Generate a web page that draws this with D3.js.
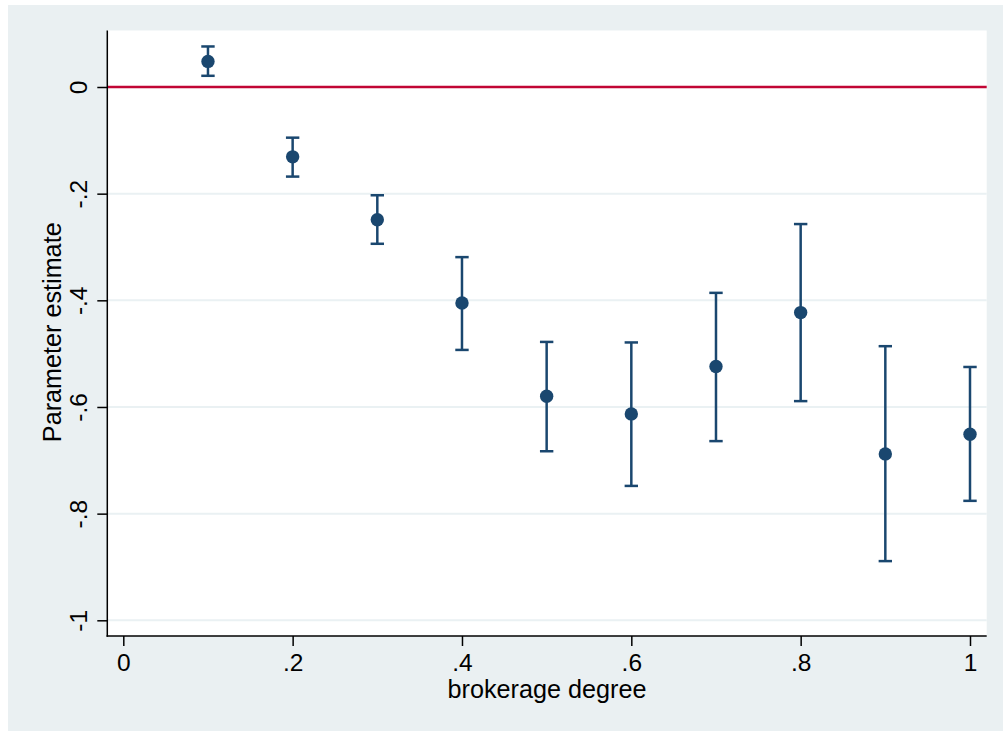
<!DOCTYPE html>
<html>
<head>
<meta charset="utf-8">
<script src="https://cdn.jsdelivr.net/npm/d3@7"></script>
<style>
  html, body { margin: 0; padding: 0; background: #ffffff; }
  svg { display: block; }
  text { font-family: "Liberation Sans", Arial, Helvetica, sans-serif; fill: #000; }
</style>
</head>
<body>
<svg id="chart" width="1003" height="731"></svg>
<script>
// ---- data ----
const brokerage = [0.1, 0.2, 0.3, 0.4, 0.5, 0.6, 0.7, 0.8, 0.9, 1.0];
const estimate  = [0.048, -0.131, -0.249, -0.405, -0.580, -0.613, -0.524, -0.423, -0.688, -0.651];
const ciUpper   = [0.076, -0.095, -0.203, -0.319, -0.478, -0.479, -0.386, -0.257, -0.486, -0.525];
const ciLower   = [0.021, -0.168, -0.294, -0.493, -0.683, -0.748, -0.664, -0.589, -0.889, -0.776];
const xTicks = [0, 0.2, 0.4, 0.6, 0.8, 1];
const xTickLabels = ["0", ".2", ".4", ".6", ".8", "1"];
const yTicks = [0, -0.2, -0.4, -0.6, -0.8, -1];
const yTickLabels = ["0", "-.2", "-.4", "-.6", "-.8", "-1"];
const xTitle = "brokerage degree";
const yTitle = "Parameter estimate";
const refLine = 0;

// ---- layout ----
const W = 1003, H = 731;
const plot = { left: 107.3, right: 986.7, top: 30.5, bottom: 636 };
const navy = "#1a476f";
const bg = "#eaf0f2";
const grid = "#eaf1f3";
const red = "#c10534";
const fs = 24.5;
const fsTitle = 25.2;

const svg = d3.select("#chart");

svg.append("rect").attr("x", 8).attr("y", 5).attr("width", W - 8).attr("height", H - 5).attr("fill", bg);
svg.append("rect").attr("x", plot.left).attr("y", plot.top)
  .attr("width", plot.right - plot.left).attr("height", plot.bottom - plot.top).attr("fill", "#fff");

const x = d3.scaleLinear().domain([0, 1]).range([123.3, 970]);
const y = d3.scaleLinear().domain([0, -1]).range([87, 620.3]);

// gridlines
svg.append("g").selectAll("line").data(yTicks.filter(d => d !== refLine)).join("line")
  .attr("x1", plot.left).attr("x2", plot.right)
  .attr("y1", d => y(d)).attr("y2", d => y(d))
  .attr("stroke", grid).attr("stroke-width", 2);

// reference line
svg.append("line")
  .attr("x1", plot.left).attr("x2", plot.right)
  .attr("y1", y(refLine)).attr("y2", y(refLine))
  .attr("stroke", red).attr("stroke-width", 2.5);

// axes
const xAxis = d3.axisBottom(x).tickValues(xTicks)
  .tickFormat((d, i) => xTickLabels[i]).tickSize(10).tickPadding(8).tickSizeOuter(0);
const gx = svg.append("g").attr("transform", `translate(0,${plot.bottom})`).call(xAxis);
gx.select(".domain").remove();
gx.selectAll(".tick line").attr("stroke", "#000").attr("stroke-width", 1.5);
gx.selectAll(".tick text").attr("font-size", fs).attr("font-family", "Liberation Sans, Arial, sans-serif").attr("fill", "#000");

const yAxis = d3.axisLeft(y).tickValues(yTicks)
  .tickFormat((d, i) => yTickLabels[i]).tickSize(10).tickSizeOuter(0);
const gy = svg.append("g").attr("transform", `translate(${plot.left},0)`).call(yAxis);
gy.select(".domain").remove();
gy.selectAll(".tick line").attr("stroke", "#000").attr("stroke-width", 1.5);
gy.selectAll(".tick text")
  .attr("font-size", fs).attr("font-family", "Liberation Sans, Arial, sans-serif").attr("fill", "#000")
  .attr("x", null).attr("dy", null)
  .attr("text-anchor", "middle")
  .attr("transform", "translate(-20,0) rotate(-90)");

// axis lines
svg.append("line").attr("x1", plot.left).attr("x2", plot.left)
  .attr("y1", plot.top).attr("y2", plot.bottom + 0.75).attr("stroke", "#000").attr("stroke-width", 1.5);
svg.append("line").attr("x1", plot.left - 0.75).attr("x2", plot.right)
  .attr("y1", plot.bottom).attr("y2", plot.bottom).attr("stroke", "#000").attr("stroke-width", 1.5);

// error bars
const data = brokerage.map((b, i) => ({ b, est: estimate[i], lo: ciLower[i], hi: ciUpper[i] }));
const eb = svg.append("g").attr("stroke", navy).attr("stroke-width", 2.5).attr("fill", "none");
eb.selectAll(".v").data(data).join("line")
  .attr("x1", d => x(d.b)).attr("x2", d => x(d.b))
  .attr("y1", d => y(d.hi)).attr("y2", d => y(d.lo));
eb.selectAll(".ct").data(data).join("line")
  .attr("x1", d => x(d.b) - 6.7).attr("x2", d => x(d.b) + 6.7)
  .attr("y1", d => y(d.hi)).attr("y2", d => y(d.hi));
eb.selectAll(".cb").data(data).join("line")
  .attr("x1", d => x(d.b) - 6.7).attr("x2", d => x(d.b) + 6.7)
  .attr("y1", d => y(d.lo)).attr("y2", d => y(d.lo));

// points
svg.append("g").selectAll("circle").data(data).join("circle")
  .attr("cx", d => x(d.b)).attr("cy", d => y(d.est)).attr("r", 6.7).attr("fill", navy);

// titles
svg.append("text").attr("x", (plot.left + plot.right) / 2).attr("y", 698.3)
  .attr("text-anchor", "middle").attr("font-size", fsTitle).text(xTitle);
svg.append("text").attr("transform", `translate(61,${(plot.top + plot.bottom) / 2 - 1}) rotate(-90)`)
  .attr("text-anchor", "middle").attr("font-size", fsTitle).text(yTitle);
</script>
</body>
</html>
